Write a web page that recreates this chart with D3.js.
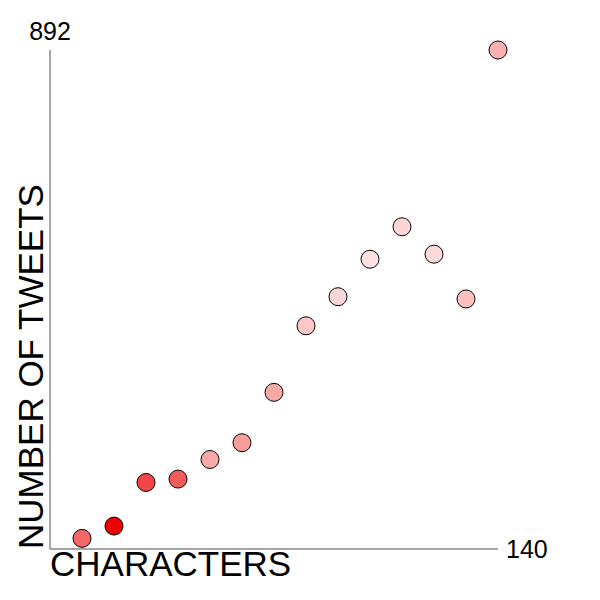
<!DOCTYPE html>
<html>
<head>
<meta charset="utf-8">
<script src="https://cdn.jsdelivr.net/npm/d3@7"></script>
<style>
  body { margin: 0; background: #fff; }
  text { font-family: "Liberation Sans", Arial, sans-serif; }
</style>
</head>
<body>
<div id="chart"></div>
<script>
const characters = [10, 20, 30, 40, 50, 60, 70, 80, 90, 100, 110, 120, 130, 140]
const tweets = [19, 41, 119, 125, 160, 190, 280, 399, 451, 518, 576, 527, 447, 892]
// how strongly each dot is shaded (0 = white, 1 = red)
const shade = [0.6, 1, 0.72, 0.64, 0.34, 0.39, 0.34, 0.22, 0.16, 0.12, 0.16, 0.15, 0.25, 0.31]

const W = 600, H = 600
const MARGIN = {TOP:50, LEFT:50, RIGHT:102, BOTTOM:51}

const svg = d3.select("#chart")
    .append("svg")
    .attr("width", W)
    .attr("height", H)

const x = d3.scaleLinear()
    .domain([0, d3.max(characters)])
    .range([MARGIN.LEFT, W - MARGIN.RIGHT])

const y = d3.scaleLinear()
    .domain([0, d3.max(tweets)])
    .range([H - MARGIN.BOTTOM, MARGIN.TOP])

const color = d3.scaleLinear()
    .domain([0, 1])
    .range(["#ffffff", "#ee0000"])

// axes: plain lines, the max values written at the ends
svg.append("line")
    .attr("x1", x(0)).attr("x2", x(0))
    .attr("y1", y(0)).attr("y2", y(d3.max(tweets)))
    .attr("stroke", "#888").attr("stroke-width", 1.5)

svg.append("line")
    .attr("x1", x(0)).attr("x2", x(d3.max(characters)))
    .attr("y1", y(0)).attr("y2", y(0))
    .attr("stroke", "#888").attr("stroke-width", 1.5)

svg.append("text")
    .attr("x", x(0)).attr("y", y(d3.max(tweets)) - 10)
    .attr("text-anchor", "middle")
    .attr("font-size", 25)
    .text(d3.max(tweets))

svg.append("text")
    .attr("x", x(d3.max(characters)) + 8).attr("y", y(0) + 9)
    .attr("font-size", 25)
    .text(d3.max(characters))

svg.append("text")
    .attr("x", x(0)).attr("y", y(0) + 27)
    .attr("font-size", 35)
    .text("CHARACTERS")

svg.append("text")
    .attr("transform", `translate(${x(0) - 7}, ${y(0)}) rotate(-90)`)
    .attr("font-size", 35)
    .text("NUMBER OF TWEETS")

svg.selectAll("circle")
    .data(characters)
    .enter().append("circle")
    .attr("cx", d => x(d))
    .attr("cy", (d, i) => y(tweets[i]))
    .attr("r", 9)
    .attr("fill", (d, i) => color(shade[i]))
    .attr("stroke", "#000")
    .attr("stroke-width", 1)
</script>
</body>
</html>
